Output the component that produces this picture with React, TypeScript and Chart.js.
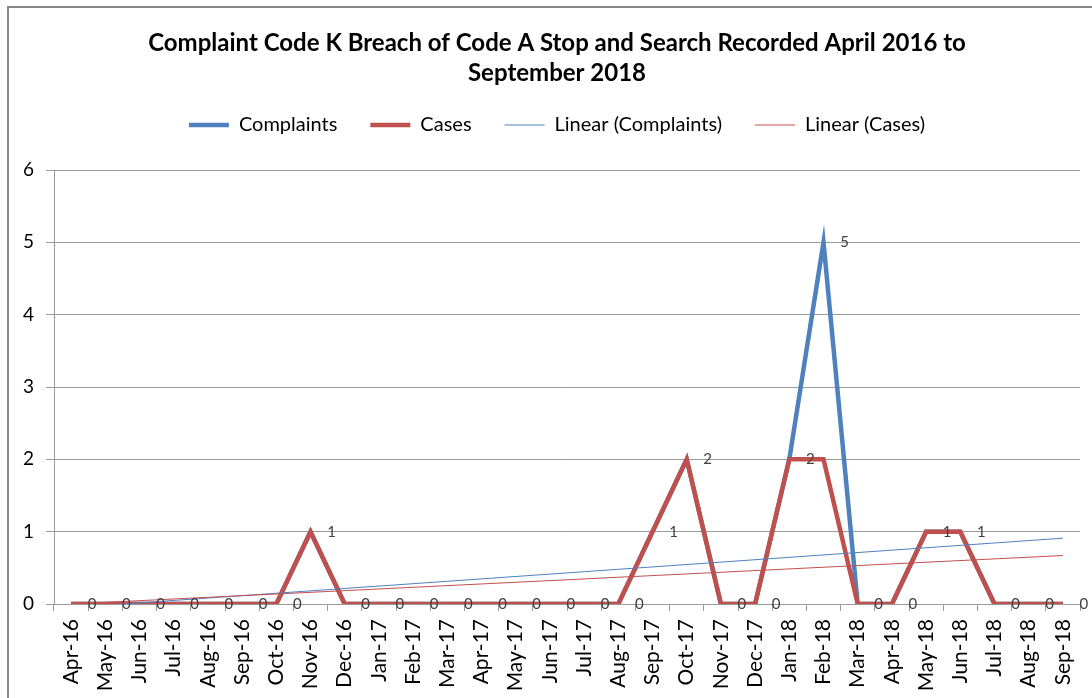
import React, { useEffect, useRef } from "react";
import { Chart, registerables } from "chart.js";

Chart.register(...registerables);

const months = [
  "Apr-16", "May-16", "Jun-16", "Jul-16", "Aug-16", "Sep-16", "Oct-16", "Nov-16", "Dec-16",
  "Jan-17", "Feb-17", "Mar-17", "Apr-17", "May-17", "Jun-17", "Jul-17", "Aug-17", "Sep-17",
  "Oct-17", "Nov-17", "Dec-17", "Jan-18", "Feb-18", "Mar-18", "Apr-18", "May-18", "Jun-18",
  "Jul-18", "Aug-18", "Sep-18",
];

const complaints = [0, 0, 0, 0, 0, 0, 0, 1, 0, 0, 0, 0, 0, 0, 0, 0, 0, 1, 2, 0, 0, 2, 5, 0, 0, 1, 1, 0, 0, 0];
const cases = [0, 0, 0, 0, 0, 0, 0, 1, 0, 0, 0, 0, 0, 0, 0, 0, 0, 1, 2, 0, 0, 2, 2, 0, 0, 1, 1, 0, 0, 0];

// Linear trend line end values
const complaintsTrendEnds = [-0.05, 0.91];
const casesTrendEnds = [0.0, 0.67];

const yMin = 0;
const yMax = 6;
const yStep = 1;

const titleLines = [
  "Complaint Code K Breach of Code A Stop and Search Recorded April 2016 to",
  "September 2018",
];

const BLUE = "#4F81BD";
const RED = "#C0504D";
const GRID = "#9a9a9a";
const FONT = "Lato, 'Open Sans', sans-serif";

const legendSpacer = {
  id: "legendSpacer",
  beforeLayout(chart: any) {
    const lg = chart.legend;
    if (lg && !lg._spacerPatched) {
      const orig = lg.fit.bind(lg);
      lg.fit = function () {
        orig();
        this.height += 25;
      };
      lg._spacerPatched = true;
    }
  },
};

const dataLabels = {
  id: "dataLabels",
  afterDatasetsDraw(chart: any) {
    const meta = chart.getDatasetMeta(0);
    const ctx = chart.ctx;
    ctx.save();
    ctx.font = `15px ${FONT}`;
    ctx.fillStyle = "#404040";
    ctx.textAlign = "center";
    ctx.textBaseline = "middle";
    meta.data.forEach((pt: any, i: number) => {
      ctx.fillText(String(complaints[i]), pt.x + 21, pt.y);
    });
    ctx.restore();
  },
};

function lineDs(label: string, data: any, color: string, width: number, order: number) {
  return {
    label,
    data,
    borderColor: color,
    backgroundColor: color,
    borderWidth: width,
    pointBorderColor: color,
    pointBackgroundColor: color,
    pointBorderWidth: width,
    pointRadius: 0,
    pointHoverRadius: 0,
    tension: 0,
    order,
  };
}

export default function App() {
  const ref = useRef<HTMLCanvasElement | null>(null);

  useEffect(() => {
    if (!ref.current) return;
    const chart = new Chart(ref.current, {
      type: "line",
      data: {
        labels: months,
        datasets: [
          lineDs("Complaints", complaints, BLUE, 4.5, 3),
          lineDs("Cases", cases, RED, 4.5, 2),
          lineDs(
            "Linear (Complaints)",
            [
              { x: months[0], y: complaintsTrendEnds[0] },
              { x: months[months.length - 1], y: complaintsTrendEnds[1] },
            ],
            BLUE,
            1,
            1
          ),
          lineDs(
            "Linear (Cases)",
            [
              { x: months[0], y: casesTrendEnds[0] },
              { x: months[months.length - 1], y: casesTrendEnds[1] },
            ],
            RED,
            1,
            0
          ),
        ] as any,
      },
      options: {
        responsive: false,
        maintainAspectRatio: false,
        animation: false,
        devicePixelRatio: 1,
        layout: { padding: { left: 0, right: 0, top: 0, bottom: 0 } },
        plugins: {
          tooltip: { enabled: false },
          title: {
            display: true,
            text: titleLines,
            color: "#000",
            font: { family: FONT, size: 24, weight: "bold", lineHeight: 1.25 },
            padding: { top: 28, bottom: -6 },
          },
          legend: {
            display: true,
            position: "top",
            labels: {
              usePointStyle: true,
              pointStyle: "line",
              pointStyleWidth: 40,
              padding: 33,
              color: "#000",
              font: { family: FONT, size: 20 },
              sort: (a: any, b: any) => a.datasetIndex - b.datasetIndex,
            },
          },
        },
        scales: {
          x: {
            type: "category",
            offset: true,
            grid: {
              display: true,
              drawOnChartArea: false,
              drawTicks: true,
              tickLength: 7,
              color: GRID,
              offset: true,
            },
            border: { display: true, color: GRID },
            ticks: {
              autoSkip: false,
              maxRotation: 90,
              minRotation: 90,
              padding: 8,
              color: "#000",
              font: { family: FONT, size: 21 },
            },
            afterFit: (s: any) => {
              s.height = 94;
            },
          },
          y: {
            position: "left",
            min: yMin,
            max: yMax,
            grid: { color: GRID, tickLength: 8 },
            border: { display: true, color: GRID },
            ticks: {
              stepSize: yStep,
              padding: 12,
              color: "#000",
              font: { family: FONT, size: 19 },
            },
            afterFit: (s: any) => {
              s.width = 54;
            },
          },
          yRightSpace: {
            position: "right",
            display: true,
            grid: { display: false, drawTicks: false },
            border: { display: false },
            ticks: { display: false },
            afterFit: (s: any) => {
              s.width = 34;
            },
          },
        },
      } as any,
      plugins: [legendSpacer, dataLabels],
    });
    return () => chart.destroy();
  }, []);

  return (
    <div
      style={{
        position: "fixed",
        left: 0,
        top: 0,
        width: 1092,
        height: 698,
        overflow: "hidden",
        background: "#fff",
      }}
    >
      <div
        style={{
          position: "absolute",
          left: 7,
          top: 6,
          width: 1200,
          height: 800,
          borderTop: "2px solid #888",
          borderLeft: "2px solid #888",
        }}
      />
      <canvas
        ref={ref}
        width={1114}
        height={698}
        style={{ position: "absolute", left: 0, top: 0, width: 1114, height: 698 }}
      />
    </div>
  );
}
